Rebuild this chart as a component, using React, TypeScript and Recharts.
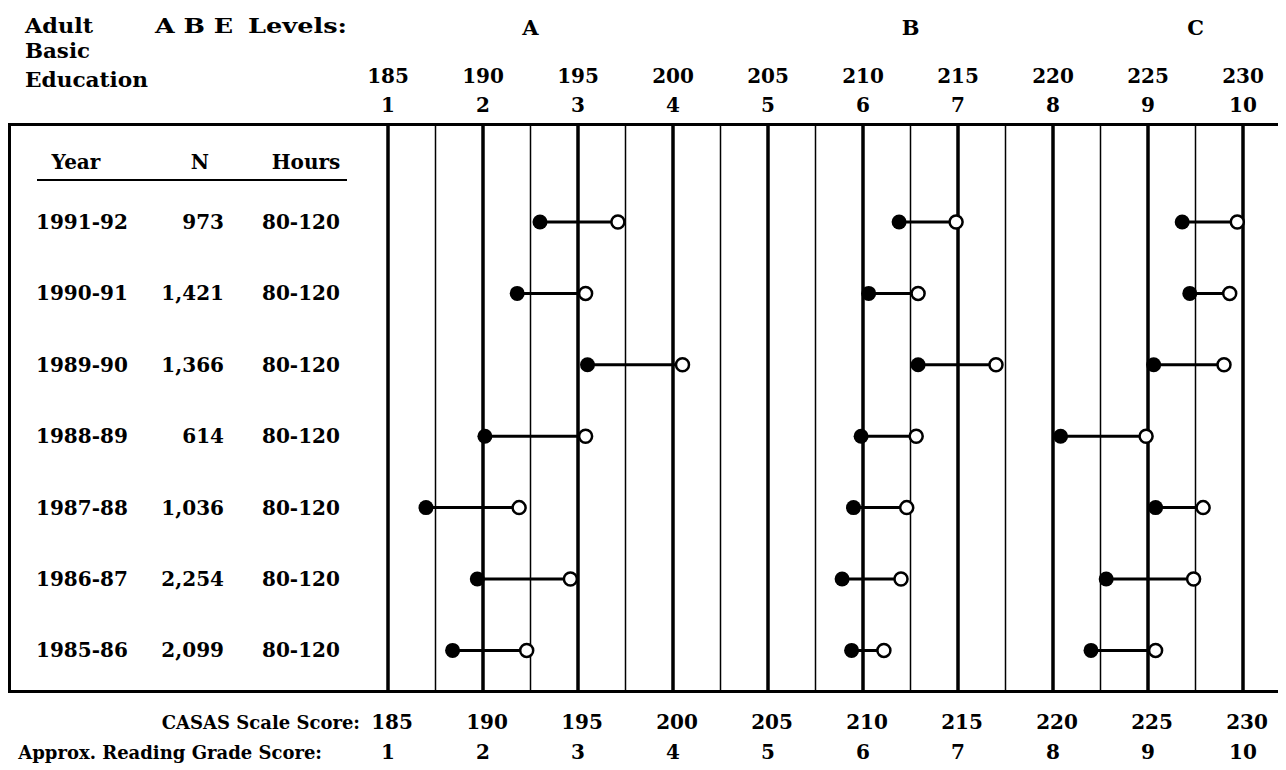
import React from "react";
import {
  ComposedChart,
  Scatter,
  XAxis,
  YAxis,
  ReferenceLine,
} from "recharts";

// ─── Data ─────────────────────────────────────────────────────────────────────

const YEARS    = ["1991-92", "1990-91", "1989-90", "1988-89", "1987-88", "1986-87", "1985-86"];
const N_VALUES = ["973", "1,421", "1,366", "614", "1,036", "2,254", "2,099"];
const HOURS    = ["80-120", "80-120", "80-120", "80-120", "80-120", "80-120", "80-120"];

// pre-test (filled) and post-test (open) CASAS scores, one per year, per level
const A_PRE  = [193.0, 191.8, 195.5, 190.1, 187.0, 189.7, 188.4];
const A_POST = [197.1, 195.4, 200.5, 195.4, 191.9, 194.6, 192.3];
const B_PRE  = [211.9, 210.3, 212.9, 209.9, 209.5, 208.9, 209.4];
const B_POST = [214.9, 212.9, 217.0, 212.8, 212.3, 212.0, 211.1];
const C_PRE  = [226.8, 227.2, 225.3, 220.4, 225.4, 222.8, 222.0];
const C_POST = [229.7, 229.3, 229.0, 224.9, 227.9, 227.4, 225.4];

const SCALE_TICKS = [185, 190, 195, 200, 205, 210, 215, 220, 225, 230];
const GRADE_TICKS = [1, 2, 3, 4, 5, 6, 7, 8, 9, 10];
const MINOR_TICKS = [187.5, 192.5, 197.5, 202.5, 207.5, 212.5, 217.5, 222.5, 227.5];
const LEVELS      = ["A", "B", "C"];
const LEVEL_TICKS = [192.5, 212.5, 227.5];
const ROW_TICKS   = [0, 1, 2, 3, 4, 5, 6];

const LEVEL_SERIES = [
  { name: "A", pre: A_PRE, post: A_POST },
  { name: "B", pre: B_PRE, post: B_POST },
  { name: "C", pre: C_PRE, post: C_POST },
];

// ─── Styling ──────────────────────────────────────────────────────────────────

const FONT = "'DejaVu Serif', 'Liberation Serif', serif";
const txt = { fontFamily: FONT, fontWeight: 700, fontSize: 20, fill: "#000" } as const;
const fit = "spacingAndGlyphs";

// ─── Labels ───────────────────────────────────────────────────────────────────

// scale score + grade written above each major grid line
const ScaleLabel = ({ viewBox, score, grade }: any) => {
  const { x, y } = viewBox;
  return (
    <g>
      <text x={x} y={y - 41} textAnchor="middle" {...txt}>{score}</text>
      <text x={x} y={y - 12} textAnchor="middle" {...txt}>{grade}</text>
    </g>
  );
};

const LevelLabel = ({ viewBox, level }: any) => (
  <text x={viewBox.x} y={viewBox.y - 89} textAnchor="middle" {...txt} fontSize={21}>{level}</text>
);

const BottomTick = ({ x, y, payload, index }: any) => (
  <g>
    <text x={x + 4} y={y + 37} textAnchor="middle" {...txt}>{payload.value}</text>
    <text x={x} y={y + 67} textAnchor="middle" {...txt}>{GRADE_TICKS[index]}</text>
  </g>
);

const RowTick = ({ x, y, payload }: any) => {
  const i = payload.value;
  return (
    <g>
      <text x={x - 352} y={y + 7} textAnchor="start" {...txt}>{YEARS[i]}</text>
      <text x={x - 164} y={y + 7} textAnchor="end" {...txt}>{N_VALUES[i]}</text>
      <text x={x - 126} y={y + 7} textAnchor="start" {...txt}>{HOURS[i]}</text>
    </g>
  );
};

const TitleLabel = () => (
  <g>
    <text x={17} y={25} {...txt} fontSize={21} textLength={68} lengthAdjust={fit}>Adult</text>
    <text x={17} y={50} {...txt} fontSize={21} textLength={65} lengthAdjust={fit}>Basic</text>
    <text x={17} y={79} {...txt} fontSize={21} textLength={123} lengthAdjust={fit}>Education</text>
    <text x={147} y={25} {...txt} fontSize={21} textLength={78} lengthAdjust={fit}>A B E</text>
    <text x={240} y={25} {...txt} fontSize={21} textLength={99} lengthAdjust={fit}>Levels:</text>
  </g>
);

const TableHeader = ({ viewBox }: any) => {
  const top = viewBox?.y ?? 116;
  return (
    <g>
      <text x={68} y={top + 45} textAnchor="middle" {...txt}>Year</text>
      <text x={192} y={top + 45} textAnchor="middle" {...txt}>N</text>
      <text x={298} y={top + 45} textAnchor="middle" {...txt}>Hours</text>
      <line x1={29} x2={339} y1={top + 56} y2={top + 56} stroke="#000" strokeWidth={2} />
    </g>
  );
};

const BottomLabel = ({ viewBox }: any) => {
  const left = viewBox?.x ?? 380;
  const top = viewBox?.y ?? 684;
  return (
    <g>
      <text x={left - 28} y={top + 37} textAnchor="end" {...txt} fontSize={18}>CASAS Scale Score:</text>
      <text x={left - 66} y={top + 67} textAnchor="end" {...txt} fontSize={18}>Approx. Reading Grade Score:</text>
    </g>
  );
};

// filled = pre-test, open = post-test
const Marker = ({ cx, cy, payload }: any) =>
  payload.k === 0 ? (
    <circle cx={cx} cy={cy} r={7.5} fill="#000" />
  ) : (
    <circle cx={cx} cy={cy} r={6.5} fill="#fff" stroke="#000" strokeWidth={2.5} />
  );

// ─── Component ────────────────────────────────────────────────────────────────

export default function App() {
  return (
    <div style={{ position: "relative", width: 1278, height: 762 }}>
      <ComposedChart width={1278} height={762} margin={{ top: 0, right: 5, bottom: 0, left: 0 }}>
        <XAxis
          dataKey="x"
          type="number"
          domain={[185, 232]}
          allowDataOverflow
          ticks={SCALE_TICKS}
          interval={0}
          orientation="bottom"
          height={78}
          axisLine={false}
          tickLine={false}
          tickSize={0}
          tickMargin={0}
          tick={<BottomTick />}
          label={<BottomLabel />}
        />
        <XAxis
          xAxisId="top"
          type="number"
          domain={[185, 232]}
          allowDataOverflow
          orientation="top"
          height={116}
          axisLine={false}
          tickLine={false}
          tick={false}
          label={<TitleLabel />}
        />
        <YAxis
          dataKey="y"
          type="number"
          domain={[-1.3725, 6.5825]}
          allowDataOverflow
          reversed
          ticks={ROW_TICKS}
          interval={0}
          width={380}
          axisLine={false}
          tickLine={false}
          tickSize={0}
          tickMargin={0}
          tick={<RowTick />}
          label={<TableHeader />}
        />

        {SCALE_TICKS.map((v, i) => (
          <ReferenceLine
            key={`maj-${v}`}
            x={v}
            stroke="#000"
            strokeWidth={3.5}
            label={<ScaleLabel score={v} grade={GRADE_TICKS[i]} />}
          />
        ))}
        {MINOR_TICKS.map((v) => {
          const li = LEVEL_TICKS.indexOf(v);
          return (
            <ReferenceLine
              key={`min-${v}`}
              x={v}
              stroke="#000"
              strokeWidth={1.5}
              label={li >= 0 ? <LevelLabel level={LEVELS[li]} /> : undefined}
            />
          );
        })}

        {LEVEL_SERIES.map((lvl) =>
          YEARS.map((year, i) => (
            <Scatter
              key={`${lvl.name}-${year}`}
              data={[
                { x: lvl.pre[i], y: i, k: 0 },
                { x: lvl.post[i], y: i, k: 1 },
              ]}
              line={{ stroke: "#000", strokeWidth: 3 }}
              shape={<Marker />}
              isAnimationActive={false}
            />
          ))
        )}
      </ComposedChart>

      {/* outer frame round table + plot */}
      <div
        style={{
          position: "absolute",
          left: 0,
          top: 115,
          width: 1275,
          height: 570,
          border: "3px solid #000",
          boxSizing: "border-box",
          pointerEvents: "none",
        }}
      />
    </div>
  );
}
